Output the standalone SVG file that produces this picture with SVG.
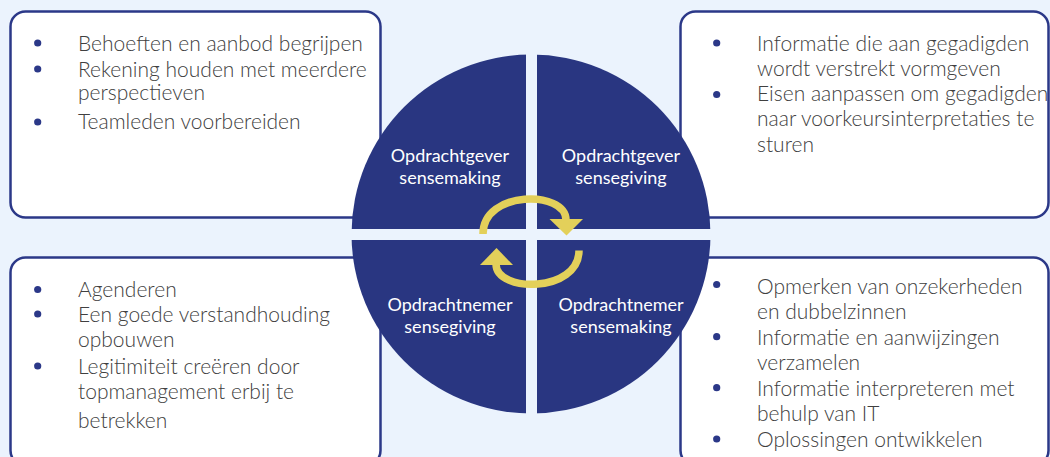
<svg xmlns="http://www.w3.org/2000/svg" width="1050" height="457" viewBox="0 0 1050 457">
<style>
.box{fill:#ffffff;stroke:#2b3888;stroke-width:2.5}
.txt{font-family:Lato,"Liberation Sans",sans-serif;font-size:21px;font-weight:300;fill:#404040}
.dot{fill:#2b3888}
.q{fill:#293681}
.ql{font-family:Lato,"Liberation Sans",sans-serif;font-size:18px;fill:#ffffff;text-anchor:middle}
.arc{fill:none;stroke:#e3d05a;stroke-width:7.5}
.head{fill:#e3d05a}
</style>
<defs>
<clipPath id="circ"><circle cx="531" cy="234" r="179.5"/></clipPath>
</defs>
<rect width="1050" height="457" fill="#ebf3fd"/>
<g id="box-tl">
<rect class="box" x="10.5" y="11.5" width="370" height="206" rx="15"/>
<circle class="dot" cx="37.7" cy="43" r="3.6"/>
<circle class="dot" cx="37.7" cy="69" r="3.6"/>
<circle class="dot" cx="37.7" cy="122" r="3.6"/>
<text class="txt" x="78" y="51">Behoeften en aanbod begrijpen</text>
<text class="txt" x="78" y="76.5">Rekening houden met meerdere</text>
<text class="txt" x="78" y="100">perspectieven</text>
<text class="txt" x="78" y="129">Teamleden voorbereiden</text>
</g>
<g id="box-tr">
<rect class="box" x="680.5" y="11.5" width="368" height="206" rx="15"/>
<circle class="dot" cx="716.7" cy="43" r="3.6"/>
<circle class="dot" cx="716.7" cy="94.5" r="3.6"/>
<text class="txt" x="757" y="51">Informatie die aan gegadigden</text>
<text class="txt" x="757" y="76">wordt verstrekt vormgeven</text>
<text class="txt" x="757" y="100.5">Eisen aanpassen om gegadigden</text>
<text class="txt" x="757" y="126">naar voorkeursinterpretaties te</text>
<text class="txt" x="757" y="151.5">sturen</text>
</g>
<g id="box-bl">
<rect class="box" x="10.5" y="257.5" width="370" height="208" rx="15"/>
<circle class="dot" cx="37.7" cy="289.5" r="3.6"/>
<circle class="dot" cx="37.7" cy="314" r="3.6"/>
<circle class="dot" cx="37.7" cy="366" r="3.6"/>
<text class="txt" x="78" y="297">Agenderen</text>
<text class="txt" x="78" y="322">Een goede verstandhouding</text>
<text class="txt" x="78" y="347">opbouwen</text>
<text class="txt" x="78" y="373.5">Legitimiteit creëren door</text>
<text class="txt" x="78" y="398.5">topmanagement erbij te</text>
<text class="txt" x="78" y="427.5">betrekken</text>
</g>
<g id="box-br">
<rect class="box" x="680.5" y="257.5" width="368" height="208" rx="15"/>
<circle class="dot" cx="716.7" cy="284.5" r="3.6"/>
<circle class="dot" cx="716.7" cy="336.7" r="3.6"/>
<circle class="dot" cx="716.7" cy="387.7" r="3.6"/>
<circle class="dot" cx="716.7" cy="439" r="3.6"/>
<text class="txt" x="757" y="293.5">Opmerken van onzekerheden</text>
<text class="txt" x="757" y="318.5">en dubbelzinnen</text>
<text class="txt" x="757" y="344.5">Informatie en aanwijzingen</text>
<text class="txt" x="757" y="369.5">verzamelen</text>
<text class="txt" x="757" y="396">Informatie interpreteren met</text>
<text class="txt" x="757" y="421">behulp van IT</text>
<text class="txt" x="757" y="447">Oplossingen ontwikkelen</text>
</g>
<g id="circle" clip-path="url(#circ)">
<g id="q-tl"><rect class="q" x="340" y="40" width="186" height="189"/></g>
<g id="q-tr"><rect class="q" x="537" y="40" width="186" height="189"/></g>
<g id="q-bl"><rect class="q" x="340" y="240" width="186" height="190"/></g>
<g id="q-br"><rect class="q" x="537" y="240" width="186" height="190"/></g>
</g>
<g id="labels">
<text class="ql" x="450" y="162">Opdrachtgever</text>
<text class="ql" x="450" y="184">sensemaking</text>
<text class="ql" x="621" y="162">Opdrachtgever</text>
<text class="ql" x="621" y="184">sensegiving</text>
<text class="ql" x="450" y="311">Opdrachtnemer</text>
<text class="ql" x="450" y="333">sensegiving</text>
<text class="ql" x="621" y="311">Opdrachtnemer</text>
<text class="ql" x="621" y="333">sensemaking</text>
</g>
<g id="connectors">
<path class="arc" d="M 483 234 C 483 190 566 190 566 220"/>
<polygon class="head" points="549.5,219 583,219 566.5,235.5"/>
<path class="arc" d="M 579 250.5 C 579 293 496 293 496 264"/>
<polygon class="head" points="480,265 513,265 496.5,248"/>
</g>
</svg>
